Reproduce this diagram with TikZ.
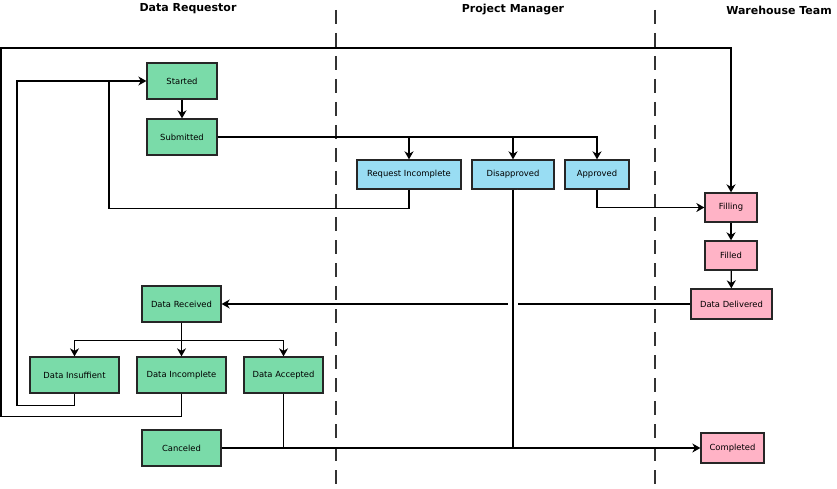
\documentclass[tikz,border=0pt]{standalone}
\usepackage{fontspec}
\setmainfont{DejaVu Sans}
\usepackage{xcolor}
\usetikzlibrary{arrows.meta}

\definecolor{reqgreen}{RGB}{122,219,169}
\definecolor{pmblue}{RGB}{153,221,243}
\definecolor{whpink}{RGB}{255,179,198}

\tikzset{
  box/.style={draw=black!85, line width=1.3pt, inner sep=0pt, font=\fontsize{8.4}{10}\selectfont},
  greenbox/.style={box, fill=reqgreen},
  bluebox/.style={box, fill=pmblue},
  pinkbox/.style={box, fill=whpink},
  lane/.style={draw=black!80, line width=1.3pt, dash pattern=on 14pt off 9pt},
  header/.style={font=\fontsize{11}{13}\selectfont\bfseries},
  flow/.style={line width=1.3pt},
}

\begin{document}
\begin{tikzpicture}[x=1pt,y=-1pt,>={Stealth[length=8pt,width=9pt,inset=2.5pt]}]
    \useasboundingbox (0,0) rectangle (837,489);

    % lanes
    \node[header] (hreq) at (188,9) {Data Requestor};
    \node[header] (hpm) at (513,10) {Project Manager};
    \node[header] (hwh) at (779,10) {Warehouse Team};
    \draw[lane] (336,10) -- (336,489);
    \draw[lane] (655,10) -- (655,489);

    % data requestor
    \node[greenbox, minimum width=70pt, minimum height=36pt] (start) at (182,81) {Started};
    \node[greenbox, minimum width=70pt, minimum height=36pt] (sub) at (182,137) {Submitted};
    \node[greenbox, minimum width=79pt, minimum height=36pt] (drec) at (181.5,304) {Data Received};
    \node[greenbox, minimum width=89pt, minimum height=36pt] (dins) at (74.5,375) {Data Insuffient};
    \node[greenbox, minimum width=89pt, minimum height=36pt] (dinc) at (181.5,375) {Data Incomplete};
    \node[greenbox, minimum width=79pt, minimum height=36pt] (dacc) at (283.5,375) {Data Accepted};
    \node[greenbox, minimum width=79pt, minimum height=36pt] (canc) at (181.5,448) {Canceled};

    % project manager
    \node[bluebox, minimum width=104pt, minimum height=29pt] (reqinc) at (409,174.5) {Request Incomplete};
    \node[bluebox, minimum width=82pt, minimum height=29pt] (disap) at (513,174.5) {Disapproved};
    \node[bluebox, minimum width=64pt, minimum height=29pt] (appr) at (597,174.5) {Approved};

    % warehouse team
    \node[pinkbox, minimum width=52pt, minimum height=29pt] (fill) at (731,207.5) {Filling};
    \node[pinkbox, minimum width=52pt, minimum height=29pt] (filled) at (731,255.5) {Filled};
    \node[pinkbox, minimum width=81pt, minimum height=30pt] (deliv) at (731.5,304) {Data Delivered};
    \node[pinkbox, minimum width=63pt, minimum height=30pt] (compl) at (732.5,448) {Completed};

    % connectors
    \draw[flow,->] (start) -- (sub);
    \draw[flow,->] (sub.east) -| (reqinc.north);
    \draw[flow,->] (sub.east) -| (disap.north);
    \draw[flow,->] (sub.east) -| (appr.north);
    \draw[flow] (reqinc.south) -- ++(0,19) -| (109,81);
    \draw[flow,->] (appr.south) |- (fill.west);
    \draw[flow,->] (fill) -- (filled);
    \draw[flow,->] (filled) -- (deliv);
    \draw[flow,->] (deliv) -- (drec);
    \draw[flow,->] (drec.south) -- ++(0,18) -| (dins.north);
    \draw[flow,->] (drec.south) -- (dinc.north);
    \draw[flow,->] (drec.south) -- ++(0,18) -| (dacc.north);
    \draw[flow,->] (dins.south) -- ++(0,12) -| (17,81) -- (start.west);
    \draw[flow,->] (dinc.south) -- ++(0,23) -| (1,48) -| (fill.north);
    \draw[flow, preaction={draw=white, line width=10pt}] (disap.south) -- (disap.south |- compl.west);
    \draw[flow] (dacc.south) -- (dacc.south |- canc.east);
    \draw[flow,->] (canc) -- (compl);
\end{tikzpicture}
\end{document}
